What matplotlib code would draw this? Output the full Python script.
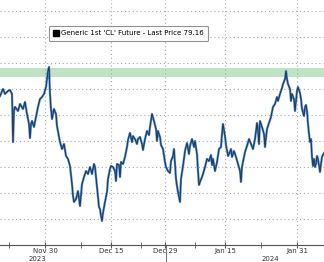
import numpy as np
import matplotlib
matplotlib.use("Agg")
import matplotlib.pyplot as plt
import matplotlib.transforms as mtransforms
from matplotlib.lines import Line2D

# WTI front month, 4-hour bars counted from the Nov 20 2023 open (6 bars per trading day)
bar = [0, 3, 5, 8, 10, 12, 13, 14, 15, 18, 20, 23, 25, 27, 29, 30, 31, 32, 34, 36,
       38, 40, 42, 44, 46, 47, 48, 49, 50, 51, 52, 54, 56, 57, 59, 60, 62, 64, 66, 68,
       70, 72, 73, 74, 76, 78, 80, 82, 84, 86, 88, 90, 92, 94, 95, 96, 98, 99, 100, 101,
       102, 103, 105, 107, 108, 110, 111, 113, 115, 116, 117, 119, 120, 121, 123, 125, 127, 128, 130, 132,
       133, 135, 137, 138, 140, 142, 143, 145, 147, 149, 150, 152, 154, 156, 157, 158, 160, 161, 163, 165,
       166, 168, 170, 171, 173, 174, 175, 176, 177, 178, 180, 181, 183, 185, 187, 189, 190, 192, 194, 195,
       197, 198, 199, 200, 202, 203, 205, 207, 209, 211, 212, 213, 215, 217, 219, 221, 222, 223, 225, 226,
       228, 229, 231, 232, 234, 236, 238, 240, 241, 242, 244, 245, 247, 249, 251, 253, 255, 257, 258, 259,
       260, 262, 264, 265, 267, 269, 271, 273, 275, 277, 278, 280, 282, 283, 285, 286, 287, 288, 290, 291,
       292, 294, 295, 296, 297, 298, 300, 301, 302, 304, 305, 306, 307, 308, 309, 310, 311, 312, 313, 314,
       315, 316, 317, 318, 320, 321, 322, 324]
price = [77.46, 78.00, 77.62, 77.85, 77.92, 77.62, 73.92, 76.31, 76.62, 76.31, 76.85, 76.46, 77.00, 76.08, 75.31, 74.23, 75.31, 75.54, 75.08, 75.85,
         76.62, 77.23, 77.38, 77.62, 78.15, 78.77, 79.38, 79.69, 77.62, 76.46, 75.69, 76.46, 76.08, 75.15, 74.31, 73.92, 73.38, 73.77, 72.85, 72.62,
         72.08, 70.69, 69.77, 69.31, 69.54, 70.15, 69.00, 70.69, 71.23, 71.69, 71.46, 72.00, 71.46, 72.23, 72.00, 71.23, 69.77, 68.92, 68.77, 68.23,
         67.85, 68.46, 69.31, 70.08, 71.08, 71.85, 72.08, 72.00, 71.69, 70.92, 72.23, 72.15, 71.23, 72.38, 72.23, 72.77, 73.54, 74.08, 74.62, 73.92,
         74.38, 74.15, 73.77, 74.15, 74.31, 73.77, 73.31, 74.15, 74.77, 74.46, 75.08, 76.08, 75.54, 74.92, 74.00, 74.77, 74.31, 73.69, 73.38, 72.38,
         72.00, 71.69, 71.54, 72.46, 72.85, 73.38, 72.23, 71.08, 70.54, 70.08, 69.31, 71.08, 72.08, 73.23, 73.85, 73.00, 73.62, 74.15, 73.54, 74.00,
         73.00, 71.69, 70.62, 70.85, 71.23, 71.46, 72.00, 72.62, 72.46, 72.92, 72.15, 72.62, 71.69, 72.38, 73.38, 73.54, 74.54, 75.31, 74.38, 73.69,
         72.85, 73.00, 73.38, 72.77, 73.23, 72.77, 72.23, 71.69, 70.85, 72.00, 72.77, 73.15, 73.62, 74.15, 73.77, 73.38, 74.15, 75.38, 74.77, 73.77,
         75.54, 75.08, 74.54, 73.54, 74.92, 75.38, 75.85, 76.62, 76.85, 77.38, 77.08, 77.62, 78.08, 78.38, 78.77, 79.38, 78.77, 78.38, 78.00, 77.08,
         77.62, 77.23, 76.31, 77.08, 77.85, 78.15, 77.69, 77.23, 76.46, 75.92, 76.62, 76.77, 76.31, 75.31, 74.54, 73.92, 74.15, 72.77, 72.08, 72.62,
         72.00, 72.23, 72.85, 72.62, 71.62, 72.23, 72.77, 73.08]

major_dates = ["2023-11-30", "2023-12-15", "2023-12-29", "2024-01-15", "2024-01-31"]
major_labels = ["Nov 30", "Dec 15", "Dec 29", "Jan 15", "Jan 31"]
minor_dates = ["2023-11-21", "2023-12-08", "2023-12-22", "2024-01-08", "2024-01-23"]
holidays = ["2023-11-23", "2023-12-25", "2024-01-01"]
start_date = "2023-11-20"
legend_label = "Generic 1st 'CL' Future - Last Price 79.16"
band_low, band_high = 78.9, 79.6

assert len(bar) == len(price)

def trading_pos(dates):
    # trading-day position (mid-session) on a gap-free axis
    return np.busday_count(start_date, dates, holidays=holidays) + 0.5

t = np.array(bar) / 6.0
p = np.array(price)

fig = plt.figure(figsize=(3.24, 2.62), dpi=100)
ax = fig.add_axes([0, 17 / 262, 1, 247 / 262])

ax.axhspan(band_low, band_high, color="#bfe3c4", lw=0, zorder=1)
ax.plot(t, p, color="#3f7fcc", lw=1.6, zorder=3, solid_joinstyle="round")
ax.plot(t, p, color="#1a1a1a", lw=0.45, zorder=4)

ax.set_xlim(0, 54)
ax.set_ylim(66, 85)

ax.set_xticks(trading_pos(major_dates))
ax.set_xticklabels(major_labels)
ax.set_xticks(trading_pos(minor_dates), minor=True)
ax.set_yticks(np.arange(66, 86, 2))

ax.grid(True, which="major", color="#a8a8a8", lw=0.8, ls=(0, (1, 2.5)))
ax.tick_params(axis="y", left=False, labelleft=False)
ax.tick_params(axis="x", which="both", direction="inout", length=4, color="#555555",
               labelsize=5, labelcolor="#333333", pad=0)

for side in ["top", "left", "right"]:
    ax.spines[side].set_visible(False)
ax.spines["bottom"].set_color("#555555")
ax.spines["bottom"].set_linewidth(0.8)

# year labels and year separator under the axis
trans = mtransforms.blended_transform_factory(ax.transData, ax.transAxes)
ax.text(6.3, -0.055, "2023", transform=trans, fontsize=5, color="#333333",
        ha="center", va="center")
ax.text(45.0, -0.055, "2024", transform=trans, fontsize=5, color="#333333",
        ha="center", va="center")
ax.plot([trading_pos(["2023-12-29"])[0] + 0.15] * 2, [0, -0.08], transform=trans,
        color="#777777", lw=0.8, clip_on=False)

handle = Line2D([], [], marker="s", color="black", ls="none", markersize=4.5)
leg = ax.legend([handle], [legend_label], loc="upper left", bbox_to_anchor=(0.151, 0.887),
                fontsize=5, frameon=True, fancybox=True, handlelength=0.8,
                handletextpad=0.3, borderpad=0.65, borderaxespad=0)
leg.get_frame().set_edgecolor("#777777")
leg.get_frame().set_linewidth(0.8)

fig.savefig("out.png", dpi=100)
